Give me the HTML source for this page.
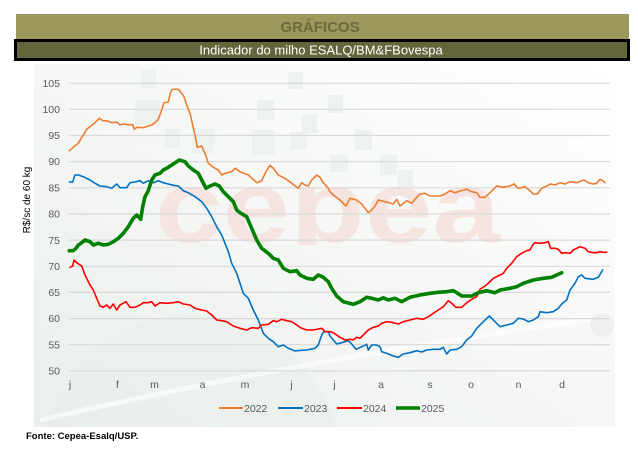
<!DOCTYPE html>
<html><head><meta charset="utf-8"><style>
html,body{margin:0;padding:0;background:#fff;width:638px;height:451px;overflow:hidden;}
body{position:relative;font-family:"Liberation Sans",sans-serif;}
svg{display:block;overflow:hidden;}
</style></head><body>
<svg width="638" height="451" viewBox="0 0 638 451" xmlns="http://www.w3.org/2000/svg" style="position:absolute;left:0;top:0">
<defs>
<linearGradient id="bg" x1="0" y1="1" x2="1" y2="0">
<stop offset="0" stop-color="#eaefeb"/>
<stop offset="0.55" stop-color="#f6f8f6"/>
<stop offset="1" stop-color="#ffffff"/>
</linearGradient>
<clipPath id="wm"><rect x="140" y="170" width="380" height="75"/></clipPath>
</defs>
<!-- header -->
<rect x="16" y="14" width="613" height="25" fill="#9b995b"/>
<text x="320" y="32" text-anchor="middle" font-family="Liberation Sans, sans-serif" font-weight="bold" font-size="15" fill="#6b6b3c">GRÁFICOS</text>
<rect x="15.5" y="40.5" width="613" height="19" fill="#63653a" stroke="#000" stroke-width="3"/>
<text x="321" y="54.5" text-anchor="middle" font-family="Liberation Sans, sans-serif" font-size="13" fill="#ffffff">Indicador do milho ESALQ/BM&amp;FBovespa</text>
<!-- chart bg -->
<rect x="34" y="64" width="581" height="363" fill="url(#bg)"/>
<path d="M45 427 A150 150 0 0 1 335 427 Z" fill="#e7eee9" opacity="0.5"/>
<path d="M40 420 Q300 360 600 318" stroke="#ffffff" stroke-width="5" fill="none" opacity="0.6"/>
<circle cx="602" cy="325" r="12" fill="#eef0ef"/>
<g fill="#eef2ef">
<rect x="141" y="70" width="15" height="18"/><rect x="135" y="100" width="25" height="25"/>
<rect x="165" y="128" width="15" height="20"/><rect x="192" y="128" width="22" height="25"/>
<rect x="257" y="100" width="17" height="20"/><rect x="252" y="130" width="23" height="25"/>
<rect x="290" y="132" width="17" height="18"/><rect x="288" y="72" width="15" height="17"/>
<rect x="302" y="115" width="15" height="18"/><rect x="328" y="95" width="15" height="18"/>
<rect x="355" y="130" width="17" height="20"/><rect x="330" y="155" width="18" height="17"/>
<rect x="380" y="155" width="17" height="20"/><rect x="398" y="170" width="15" height="17"/>
</g>
<text x="155" y="242" font-family="Liberation Sans, sans-serif" font-weight="bold" font-size="102" fill="#f5e4e0" textLength="345" lengthAdjust="spacingAndGlyphs" clip-path="url(#wm)">cepea</text>
<!-- gridlines -->
<g stroke="#d9d9d9" stroke-width="1.2">
<line x1="69" y1="83.3" x2="610" y2="83.3"/>
<line x1="69" y1="109.3" x2="610" y2="109.3"/>
<line x1="69" y1="135.5" x2="610" y2="135.5"/>
<line x1="69" y1="161.7" x2="610" y2="161.7"/>
<line x1="69" y1="187.8" x2="610" y2="187.8"/>
<line x1="69" y1="214" x2="610" y2="214"/>
<line x1="69" y1="240.1" x2="610" y2="240.1"/>
<line x1="69" y1="266.3" x2="610" y2="266.3"/>
<line x1="69" y1="292.4" x2="610" y2="292.4"/>
<line x1="69" y1="318.6" x2="610" y2="318.6"/>
<line x1="69" y1="344.7" x2="610" y2="344.7"/>
<line x1="69" y1="370.8" x2="610" y2="370.8"/>
</g>
<!-- y tick labels -->
<g font-family="Liberation Sans, sans-serif" font-size="10.5" fill="#595959" text-anchor="end">
<text x="60" y="87">105</text><text x="60" y="113">100</text><text x="60" y="139">95</text>
<text x="60" y="165">90</text><text x="60" y="191.5">85</text><text x="60" y="217.5">80</text>
<text x="60" y="244">75</text><text x="60" y="270">70</text><text x="60" y="296">65</text>
<text x="60" y="322">60</text><text x="60" y="348.5">55</text><text x="60" y="374.5">50</text>
</g>
<text transform="translate(30,200) rotate(-90)" text-anchor="middle" font-family="Liberation Sans, sans-serif" font-size="10" fill="#000">R$/sc de 60 kg</text>
<!-- month labels -->
<g font-family="Liberation Sans, sans-serif" font-size="10.5" fill="#595959" text-anchor="middle">
<text x="70" y="388">j</text><text x="117.5" y="388">f</text><text x="154.5" y="388">m</text>
<text x="202.5" y="388">a</text><text x="245" y="388">m</text><text x="291.5" y="388">j</text>
<text x="334.5" y="388">j</text><text x="381" y="388">a</text><text x="430" y="388">s</text>
<text x="471" y="388">o</text><text x="518.5" y="388">n</text><text x="562" y="388">d</text>
</g>
<!-- series -->
<g fill="none" stroke-linejoin="round" stroke-linecap="round">
<polyline stroke="#ed7d31" stroke-width="1.6" points="69.3,150.7 73.3,147.3 78.3,143.3 81.7,137.3 84,134 86.7,129.3 90,126.7 95,122.7 99.3,118.3 102.7,120.7 107.3,121 111.7,122.7 116.7,122 120,125 123.3,124 128.3,124.7 132.7,124.7 134.3,129.3 136.7,127.3 143.3,127.7 148.3,126 151.7,125 155,122.7 158.3,119.3 161.7,110 164,102.7 168.3,102 170.7,91.7 172.7,89.3 178.3,89.3 181.7,93.3 184,96.7 186.7,105 190,113.3 192.3,123.3 195,135 197.3,147.3 201.7,146 205,153.3 208.3,163.3 213.3,167.3 218.3,170 221.7,175 225,173.3 231.7,171.7 235,168.3 240,171.7 248.3,175 256.7,182.7 261.7,180.7 266,171.7 270,165.3 273.3,168.3 278.3,175 285,178.3 291.7,183.3 298.3,188.3 301.7,182.7 305,185 308.3,186 311.7,180 316.7,175 320,177.3 323.3,182.7 328.3,188.3 330,191.7 333.3,195 340,200 346,206 350,198.3 356.7,200 361.7,204 368.3,212.7 371.7,210 375,206 378.3,200 385,201.7 393.3,204 396.7,199.3 400,206 406.7,200.7 411.7,203.3 415,199.3 420,194 425,193.3 430,196 435,196 440,196 445,194 450,190.7 455,192.7 460,191 466.7,189.3 471.7,191.7 476.7,192.7 480,197.3 485,197.3 490,192.7 496.7,186 503.3,187.3 510,186 514,184 518.3,188.3 525,186.7 530,190.7 533.3,194 537.3,194 541.7,188.3 546.7,186 550.7,184 555,185 560,182.7 565,184 570,181.7 576.7,182.7 584,180 588.3,182.7 593.3,184 596.7,183.3 600,179.3 602.7,180.7 605,182.7"/>
<polyline stroke="#0070c0" stroke-width="1.6" points="69.3,182 72.7,182 75,175 78.3,175 83.3,176.7 90,180 95,183.3 100,186 106.7,186.7 111.7,188.3 116.7,184 120,187.7 126.7,187.7 130,182.7 135,182 140,180.7 143.3,183.3 148.3,180.7 153.3,182.7 158.3,180.7 163.3,182.7 168.3,184 173.3,185.3 178.3,186 183.3,190.7 188.3,192.7 195,196.7 201.7,201.7 206.7,208.3 211.7,216.7 216.7,226.7 221.7,235 225,243.3 228.3,251.7 231.7,263.3 236.7,273.3 240,283.3 243.3,293.3 248.3,298.3 253.3,310 258.3,320 263.3,333.3 268.3,338.3 273.3,341.7 278.3,346.7 283.3,345 288.3,348.3 295,351 300,350.4 306.7,350 315,348.3 318.3,345 321.7,335 324,331.7 328.3,331.7 330,336 333.3,340 336.7,344 341.7,342.7 348.3,340.7 351.7,344 356,349.3 361.7,346.7 366.7,344.3 368.3,350 371.7,345 376.7,345 380,346.7 381.7,351.7 386.7,353.3 393.3,356 398.3,357.3 403.3,354 410,352.7 416.7,350.7 421.7,352 426.7,350 433.3,349.3 440,349.3 443.3,347.3 446.7,354 450,350 456.7,349.3 461.7,346.7 466.7,340 471.7,336 476.7,328.3 483.3,321.7 489.3,316 495,321.7 500,326.7 506.7,325 513.3,323.3 518.3,318.3 523.3,319 528.3,321.7 533.3,320 538.3,316.7 540,311.7 546.7,312.7 553.3,311.7 558.3,308.3 561.7,304 566.7,300 570,290 575,283.3 578.3,276.7 581.7,275 585,278.3 593.3,279.3 598.3,277.3 600.7,273.3 602.7,270"/>
<polyline stroke="#ff0000" stroke-width="1.6" points="70,267.3 72.7,266 74,260 76.7,262.7 80,265 81.7,266 85,275 90,285 93.3,290 96.7,298.3 100,306 103.3,307.3 106.7,305 110,308.3 113.3,304 116.7,310 120,305 126,301.7 130,307.3 135,307.3 140,305 143.3,302.7 148.3,302.7 151.7,301.7 155,306 160,302.7 166.7,303.3 173.3,302.7 178.3,301.7 183.3,304 190,305 195,308.3 201.7,310 206.7,311 211.7,315 216.7,320 221.7,320.7 226.7,321.7 233.3,326 240,328.3 246.7,330 251.7,327.7 258.3,328.3 261.7,325 268.3,324.3 273.3,320.7 276.7,321.7 281.7,319.3 286.7,320.7 291.7,321.7 296.7,325 301.7,328.3 306.7,330 313.3,330 321.7,328.3 325,331.7 330,331.7 333.3,332.7 340,337.3 345,340 350,339.3 353.3,340 356.7,337.3 360,338.3 363.3,335 368.3,330 373.3,327.3 378.3,326 381.7,323.3 386.7,321.7 391.7,322.3 398.3,324 403.3,321.7 410,320 416.7,318.3 423.3,319.3 428.3,316.7 433.3,313.3 438.3,310 443.3,306.7 448.3,300.7 451.7,303.3 456,307.3 461.7,307.3 466.7,302.7 471.7,299.3 476.7,296.7 480,289.3 485,286 488.3,283.3 493.3,278.3 500,275 503.3,273.3 506.7,268.3 511.7,263.3 516.7,256.7 521.7,253.3 526.7,250.7 530,250 532.7,245 535,242.7 540,243.3 545,242.7 548.3,241.7 550.7,248.3 555,248.3 558.3,249.3 561.7,253.3 565,252.7 570,253.3 573.3,250 576.7,248.3 580,246.7 585,248.3 588.3,251.7 593.3,252.7 596.7,252.7 600,251.7 603.3,252.3 606.7,252.3"/>
<polyline stroke="#008000" stroke-width="3.6" points="69.3,250.7 73.3,250.7 76,248.3 78.3,245 81.7,242.7 85,240 90,241.7 93.3,245 98.3,243.3 103.3,245 108.3,244.3 113.3,241.7 118.3,238.3 123.3,233.3 128.3,226.7 133.3,218.3 136.7,215 140.7,219.3 142.7,206.7 145,196.7 148.3,190.7 151.7,180 155,175 160,173.3 163.3,170 168.3,167.3 173.3,164 179.3,160 185,161.7 188.3,166 193.3,170 198.3,173.3 201.7,180 206,188.3 210,186 215,184 219.3,186 223.3,191.7 228.3,196.7 233.3,201.7 236.7,210 240,212.7 246.7,216.7 251.7,228.3 256.7,240 261.7,248.3 268.3,253.3 273.3,258.3 278.3,260 283.3,268.3 290,271.7 296.7,270.7 300,275 306.7,278.3 313.3,279.3 318.3,275 323.3,277.3 328.3,281.7 331.7,288.3 336.7,296 343.3,301.7 353.3,304.3 360,301.7 366.7,297.3 371.7,298.3 378.3,300 383.3,297.7 388.3,300 395,298.3 401.7,301.7 410,297.3 420,295 430,293.3 438.3,292.3 446.7,291.7 453.3,290.7 456.7,292.7 461.7,296 471.7,296 478.3,292.7 486.7,290.7 495,292.7 500,290 510,288.3 516.7,286.7 523.3,283.3 533.3,280 543.3,278.3 551.7,277.3 556.7,275 561.7,272.7"/>
</g>
<!-- legend -->
<g font-family="Liberation Sans, sans-serif" font-size="10.5" fill="#595959">
<line x1="219" y1="408" x2="243" y2="408" stroke="#ed7d31" stroke-width="2"/>
<text x="244" y="412">2022</text>
<line x1="278" y1="408" x2="303" y2="408" stroke="#0070c0" stroke-width="2"/>
<text x="304" y="412">2023</text>
<line x1="337" y1="408" x2="362" y2="408" stroke="#ff0000" stroke-width="2"/>
<text x="363" y="412">2024</text>
<line x1="396" y1="408" x2="420" y2="408" stroke="#008000" stroke-width="3.6"/>
<text x="421" y="412">2025</text>
</g>
<text x="26" y="439" font-family="Liberation Sans, sans-serif" font-weight="bold" font-size="9.5" fill="#000">Fonte: Cepea-Esalq/USP.</text>
</svg>
</body></html>
